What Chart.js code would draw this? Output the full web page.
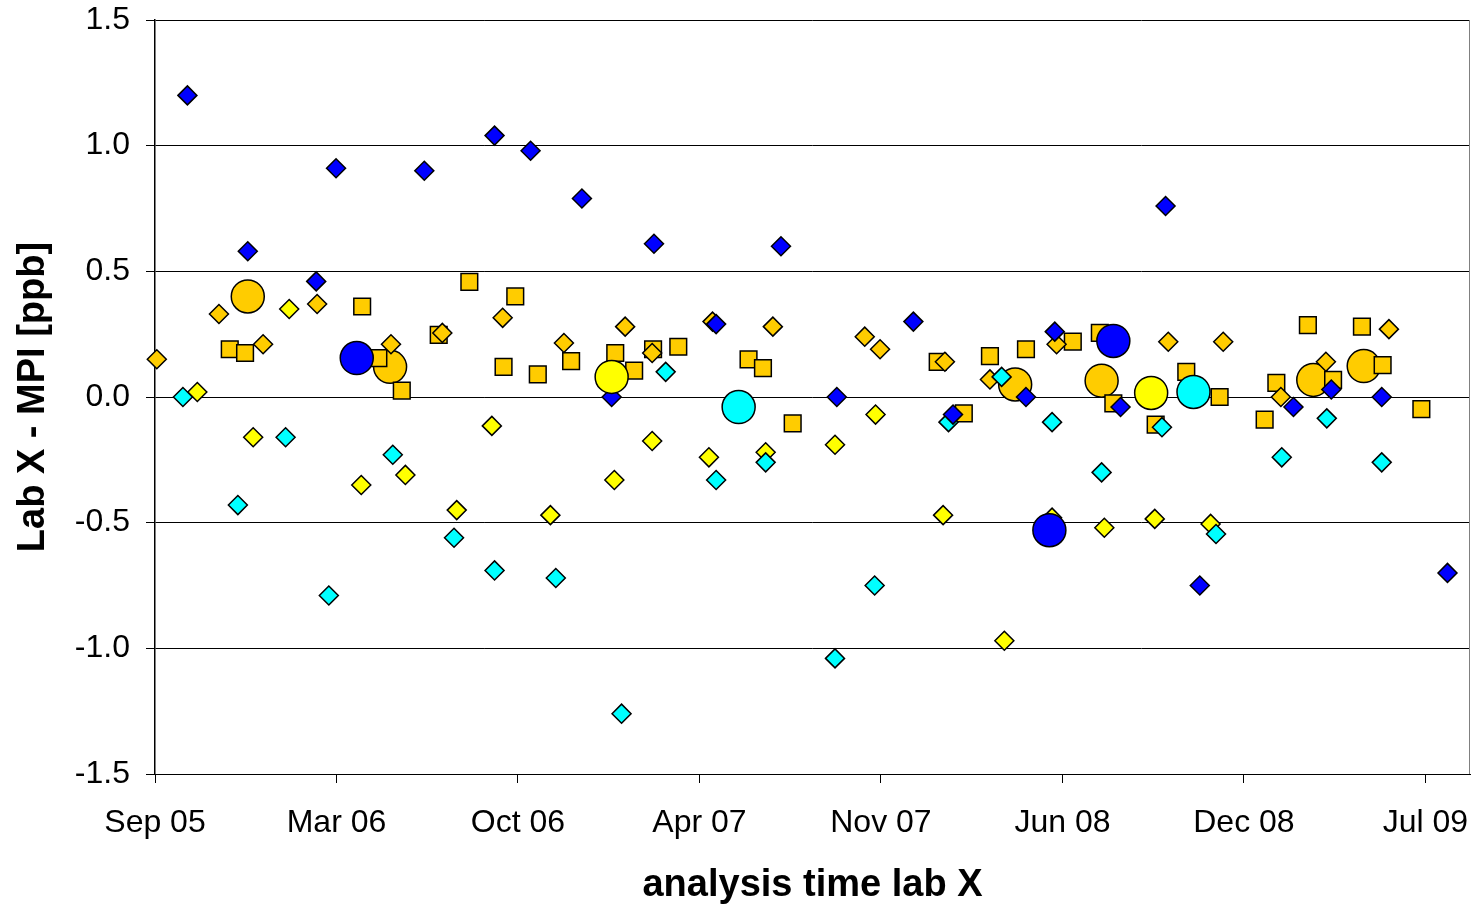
<!DOCTYPE html>
<html>
<head>
<meta charset="utf-8">
<script src="https://cdn.jsdelivr.net/npm/chart.js@4.4.0/dist/chart.umd.min.js"></script>
<style>
  html, body { margin: 0; padding: 0; background: #ffffff; overflow: hidden; }
  #wrap { width: 1477px; height: 905px; }
  canvas { display: block; }
</style>
</head>
<body>
<div id="wrap"><canvas id="c" width="1477" height="905"></canvas></div>
<script>
// x values: days since 1 Sep 2005 (analysis time lab X); y values: Lab X - MPI [ppb]
const TICK_LABELS = ['Sep 05', 'Mar 06', 'Oct 06', 'Apr 07', 'Nov 07', 'Jun 08', 'Dec 08', 'Jul 09'];
const TICK_STEP_DAYS = 201.5;
const X_MAX_DAYS = 1460;

const BLUE_DIA_X = [36,103,179,201,299,377,417,474,507,554,623,695,757,842,886,967,999,1072,1122,1160,1264,1306,1362,1435];
const BLUE_DIA_Y = [1.20,0.58,0.46,0.91,0.90,1.04,0.98,0.79,0.00,0.61,0.29,0.60,0.00,0.30,-0.07,0.00,0.26,-0.04,0.76,-0.75,-0.04,0.03,0.00,-0.70];

const CYAN_DIA_X = [31,92,145,193,264,332,377,445,518,567,623,678,755,799,881,940,996,1051,1118,1178,1251,1301,1362];
const CYAN_DIA_Y = [0.00,-0.43,-0.16,-0.79,-0.23,-0.56,-0.69,-0.72,-1.26,0.10,-0.33,-0.26,-1.04,-0.75,-0.10,0.08,-0.10,-0.30,-0.12,-0.545,-0.24,-0.085,-0.26];

const YELLOW_DIA_X = [47,109,149,229,278,335,374,439,510,552,615,678,755,800,875,943,996,1054,1110,1172];
const YELLOW_DIA_Y = [0.02,-0.16,0.35,-0.35,-0.31,-0.45,-0.115,-0.47,-0.33,-0.175,-0.24,-0.22,-0.19,-0.07,-0.47,-0.97,-0.48,-0.52,-0.485,-0.505];

const ORANGE_DIA_X = [2,71,120,180,262,319,386,454,522,552,619,686,788,805,877,927,1001,1125,1186,1250,1300,1370];
const ORANGE_DIA_Y = [0.15,0.33,0.21,0.37,0.21,0.255,0.315,0.215,0.28,0.175,0.30,0.28,0.24,0.19,0.14,0.07,0.21,0.22,0.22,0.00,0.14,0.27];

const ORANGE_SQ_X = [83,100,230,248,274,315,349,387,400,425,462,511,532,553,581,659,675,708,869,898,927,967,1019,1049,1064,1111,1145,1182,1232,1245,1280,1308,1340,1363,1406];
const ORANGE_SQ_Y = [0.19,0.175,0.36,0.155,0.025,0.247,0.458,0.12,0.40,0.09,0.143,0.175,0.105,0.19,0.20,0.15,0.115,-0.105,0.14,-0.065,0.163,0.19,0.22,0.255,-0.025,-0.11,0.10,0.00,-0.09,0.056,0.286,0.068,0.28,0.127,-0.048];

const ORANGE_CIRC_X = [103,261,955,1051,1286,1342];
const ORANGE_CIRC_Y = [0.40,0.12,0.05,0.065,0.068,0.123];
const BLUE_CIRC_X = [224,993,1064];
const BLUE_CIRC_Y = [0.155,-0.53,0.223];
const YELLOW_CIRC_X = [507,1106];
const YELLOW_CIRC_Y = [0.08,0.016];
const CYAN_CIRC_X = [648,1153];
const CYAN_CIRC_Y = [-0.04,0.02];

const BLUE = '#0000FF', CYAN = '#00FFFF', YELLOW = '#FFFF00', ORANGE = '#FFCC00';

function pts(xs, ys) { return xs.map((x, i) => ({ x: x, y: ys[i] })); }

function ds(label, xs, ys, color, style, radius, layer) {
  return {
    label: label,
    data: pts(xs, ys),
    showLine: false,
    clip: false,
    pointStyle: style,
    pointRadius: radius,
    pointHoverRadius: radius,
    pointBackgroundColor: color,
    pointBorderColor: '#000000',
    pointBorderWidth: 1.5,
    backgroundColor: color,
    borderColor: '#000000',
    order: 20 - layer
  };
}

const DIA_R = 9.5, SQ_R = 11.8, CIRC_R = 16.5;

const datasets = [
  ds('orange mean', ORANGE_CIRC_X, ORANGE_CIRC_Y, ORANGE, 'circle', CIRC_R, 1),
  ds('orange squares', ORANGE_SQ_X, ORANGE_SQ_Y, ORANGE, 'rect', SQ_R, 2),
  ds('orange diamonds', ORANGE_DIA_X, ORANGE_DIA_Y, ORANGE, 'rectRot', DIA_R, 3),
  ds('yellow diamonds', YELLOW_DIA_X, YELLOW_DIA_Y, YELLOW, 'rectRot', DIA_R, 4),
  ds('cyan diamonds', CYAN_DIA_X, CYAN_DIA_Y, CYAN, 'rectRot', DIA_R, 5),
  ds('blue diamonds', BLUE_DIA_X, BLUE_DIA_Y, BLUE, 'rectRot', DIA_R, 6),
  ds('blue mean', BLUE_CIRC_X, BLUE_CIRC_Y, BLUE, 'circle', CIRC_R, 7),
  ds('yellow mean', YELLOW_CIRC_X, YELLOW_CIRC_Y, YELLOW, 'circle', CIRC_R, 8),
  ds('cyan mean', CYAN_CIRC_X, CYAN_CIRC_Y, CYAN, 'circle', CIRC_R, 9)
];

const rightBorder = {
  id: 'rightBorder',
  afterDatasetsDraw(chart) {
    const a = chart.chartArea, ctx = chart.ctx;
    ctx.save();
    ctx.strokeStyle = '#808080';
    ctx.lineWidth = 1;
    ctx.beginPath();
    ctx.moveTo(Math.round(a.right) - 0.5, a.top);
    ctx.lineTo(Math.round(a.right) - 0.5, a.bottom);
    ctx.stroke();
    ctx.restore();
  }
};

const FONT = "'Liberation Sans', Arial, sans-serif";
const ZERO_PAD = () => ({ left: 0, top: 0, right: 0, bottom: 0 });

new Chart(document.getElementById('c'), {
  type: 'scatter',
  data: { datasets: datasets },
  options: {
    responsive: false,
    animation: false,
    events: [],
    layout: { autoPadding: false, padding: { top: 20, right: 7, left: 0, bottom: 0 } },
    plugins: { legend: { display: false }, tooltip: { enabled: false } },
    scales: {
      x: {
        type: 'linear',
        min: 0,
        max: X_MAX_DAYS,
        afterFit(scale) {
          scale.height = 131;
          scale.paddingLeft = 0; scale.paddingRight = 0;
          scale.paddingTop = 0; scale.paddingBottom = 0;
          scale.getPadding = ZERO_PAD;
        },
        afterBuildTicks(scale) {
          scale.ticks = TICK_LABELS.map((l, i) => ({ value: i * TICK_STEP_DAYS }));
        },
        ticks: {
          autoSkip: false,
          maxRotation: 0,
          padding: 0,
          color: '#000000',
          font: { family: FONT, size: 32, lineHeight: 2.5 },
          callback: (v, i) => TICK_LABELS[i]
        },
        grid: { drawOnChartArea: false, drawTicks: true, tickLength: 9, color: '#000000', lineWidth: 1 },
        border: { display: true, color: '#000000', width: 1 },
        title: {
          display: true,
          text: 'analysis time lab X',
          color: '#000000',
          font: { family: FONT, size: 38, weight: 'bold' },
          padding: { top: 0, bottom: -3 }
        }
      },
      y: {
        min: -1.5,
        max: 1.5,
        afterFit(scale) {
          scale.width = 155;
          scale.paddingLeft = 0; scale.paddingRight = 0;
          scale.paddingTop = 0; scale.paddingBottom = 0;
          scale.getPadding = ZERO_PAD;
        },
        ticks: {
          stepSize: 0.5,
          padding: 16,
          color: '#000000',
          font: { family: FONT, size: 32 },
          callback: v => v.toFixed(1)
        },
        grid: { color: '#000000', lineWidth: 1, tickLength: 9, drawTicks: true },
        border: { display: true, color: '#000000', width: 1.5 },
        title: {
          display: true,
          text: 'Lab X - MPI [ppb]',
          color: '#000000',
          font: { family: FONT, size: 38, weight: 'bold' },
          padding: { top: 11, bottom: 0 }
        }
      }
    }
  },
  plugins: [rightBorder]
});
</script>
</body>
</html>
